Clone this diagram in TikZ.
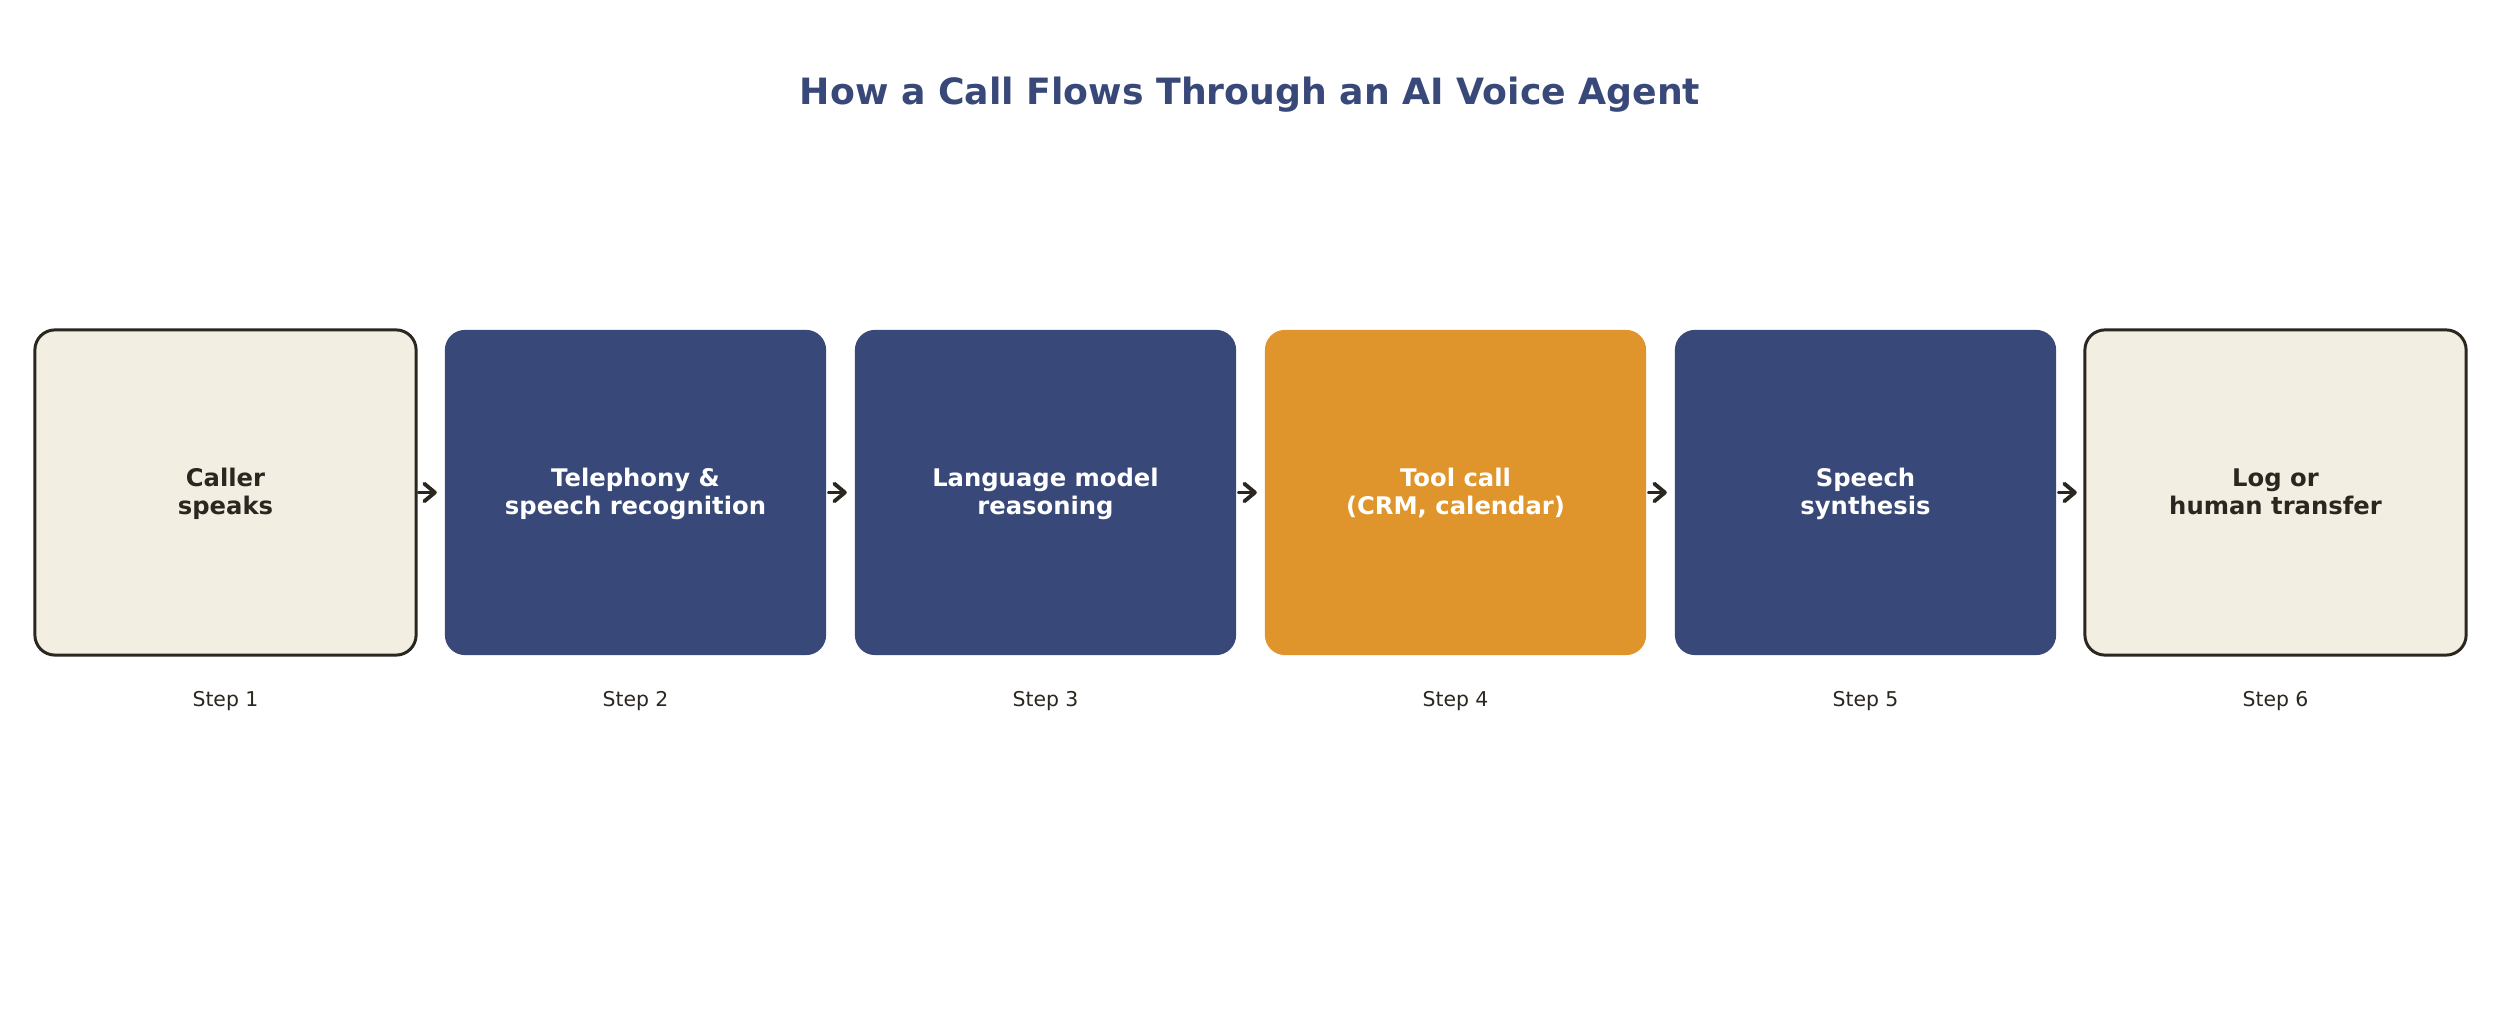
\documentclass[tikz,border=0pt]{standalone}
\usepackage{fontspec}
\setmainfont{DejaVu Sans}
\usetikzlibrary{arrows.meta,calc}
\definecolor{navy}{HTML}{384878}
\definecolor{orng}{HTML}{DF952B}
\definecolor{cream}{HTML}{F2EEE2}
\definecolor{ink}{HTML}{2B2620}
\tikzset{
  box/.style={rectangle, rounded corners=0.2cm, minimum width=3.81cm, minimum height=3.25cm,
    inner sep=0pt, outer sep=0pt},
  lightbox/.style={box, fill=cream, draw=ink, line width=0.85pt},
  darkbox/.style={box, fill=navy},
  hotbox/.style={box, fill=orng},
  boxtext/.style={align=center, inner sep=0pt, text height=5.24pt, text depth=9.63pt,
    font=\fontsize{6.9pt}{8.0pt}\selectfont\bfseries},
  steplabel/.style={anchor=base, text=ink, font=\fontsize{5.8pt}{7pt}\selectfont},
  flow/.style={draw=ink, line width=1.1pt, line cap=round,
    -{Straight Barb[length=3pt,width=5pt,line join=round,line cap=round]},
    shorten <=0.85pt, shorten >=2.3pt}
}
\begin{document}
\begin{tikzpicture}[x=0.01cm, y=-0.01cm]
\useasboundingbox (0,0) rectangle (2500,1019);
\node[anchor=base, text=navy, font=\fontsize{10.3pt}{12pt}\selectfont\bfseries] (title) at (1250,105) {How a Call Flows Through an AI Voice Agent};
\node[lightbox] (b1) at (225.5,492.5) {};
\node[darkbox]  (b2) at (635.5,492.5) {};
\node[darkbox]  (b3) at (1045.5,492.5) {};
\node[hotbox]   (b4) at (1455.5,492.5) {};
\node[darkbox]  (b5) at (1865.5,492.5) {};
\node[lightbox] (b6) at (2275.5,492.5) {};
\foreach \i/\t/\c in {1/{Caller\\speaks}/ink, 2/{Telephony \&\\speech recognition}/white,
  3/{Language model\\reasoning}/white, 4/{Tool call\\(CRM, calendar)}/white,
  5/{Speech\\synthesis}/white, 6/{Log or\\human transfer}/ink}{
  \node[boxtext, text=\c] (t\i) at ($(b\i.center)+(0,29.5)$) {\t};
}
\foreach \i in {1,...,6}{
  \node[steplabel] (s\i) at ($(b\i.center)+(0,214.5)$) {Step \i};
}
\foreach \i/\j in {1/2,2/3,3/4,4/5,5/6}{
  \draw[flow] (b\i.east) -- (b\j.west);
}
\end{tikzpicture}
\end{document}
